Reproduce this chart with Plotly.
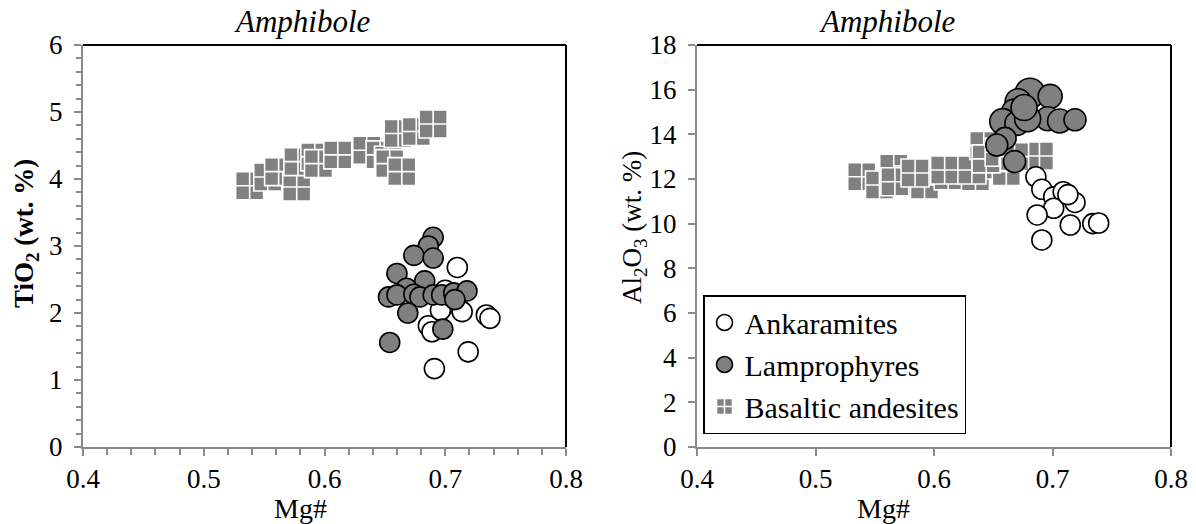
import plotly.graph_objects as go

# ---------------- data: left panel (TiO2 vs Mg#) ----------------
ank_mg_L = [0.710, 0.700, 0.698, 0.714, 0.734, 0.737, 0.686, 0.689, 0.719, 0.691, 0.696, 0.705]
ank_ti_L = [2.68, 2.34, 2.09, 2.02, 1.97, 1.92, 1.81, 1.72, 1.42, 1.17, 2.04, 2.25]

lam_mg_L = [0.690, 0.686, 0.674, 0.690, 0.660, 0.683, 0.668, 0.653, 0.660, 0.674, 0.679,
            0.690, 0.697, 0.707, 0.718, 0.708, 0.669, 0.698, 0.654]
lam_ti_L = [3.13, 3.00, 2.86, 2.82, 2.59, 2.48, 2.37, 2.24, 2.27, 2.28, 2.24,
            2.27, 2.27, 2.30, 2.33, 2.20, 2.00, 1.76, 1.56]

bas_mg_L = [0.538, 0.553, 0.562, 0.577, 0.578, 0.592, 0.595, 0.611, 0.635, 0.646, 0.653,
            0.654, 0.664, 0.661, 0.676, 0.690]
bas_ti_L = [3.90, 4.03, 4.11, 3.88, 4.26, 4.33, 4.23, 4.36, 4.43, 4.36, 4.28,
            4.23, 4.11, 4.68, 4.71, 4.82]

# ---------------- data: right panel (Al2O3 vs Mg#) ----------------
ank_mg_R = [0.686, 0.691, 0.701, 0.709, 0.701, 0.687, 0.691, 0.715, 0.719, 0.734, 0.739, 0.713]
ank_al_R = [12.10, 11.54, 11.20, 11.43, 10.69, 10.39, 9.27, 9.94, 10.95, 10.00, 10.03, 11.30]

lam_mg_R = [0.681, 0.671, 0.668, 0.658, 0.670, 0.660, 0.653, 0.668, 0.698, 0.696,
            0.706, 0.719, 0.679, 0.676]
lam_al_R = [15.84, 15.46, 15.00, 14.57, 14.49, 13.82, 13.52, 12.78, 15.70, 14.70,
            14.60, 14.65, 14.70, 15.20]
lam_sz_R = [30, 26, 26, 26, 24, 22, 22, 22, 24, 24, 24, 22, 26, 26]

bas_mg_R = [0.539, 0.554, 0.566, 0.578, 0.592, 0.612, 0.635, 0.644, 0.661, 0.689,
            0.567, 0.584, 0.609, 0.632, 0.642, 0.644, 0.655, 0.668]
bas_al_R = [12.10, 11.73, 12.48, 11.96, 11.73, 12.14, 12.10, 12.63, 12.33, 13.03,
            11.88, 12.27, 12.40, 12.40, 13.50, 12.90, 13.20, 13.00]

x_ticks = [0.4, 0.5, 0.6, 0.7, 0.8]
names = ["Ankaramites", "Lamprophyres", "Basaltic andesites"]

FONT = "Liberation Serif"
GREY = "#808080"
AXC = "#8a8a8a"

fig = go.Figure()

def sq(x, y, xa, ya, show):
    return go.Scatter(x=x, y=y, mode="markers", name=names[2], xaxis=xa, yaxis=ya,
                      showlegend=show, legendrank=3,
                      marker=dict(symbol="square-cross", size=28, color=GREY, opacity=1,
                                  line=dict(color="white", width=1.6)))

def circ(x, y, xa, ya, show, fill, name, rank, size):
    return go.Scatter(x=x, y=y, mode="markers", name=name, xaxis=xa, yaxis=ya,
                      showlegend=show, legendrank=rank,
                      marker=dict(symbol="circle", size=size, color=fill, opacity=1,
                                  line=dict(color="black", width=1.6)))

fig.add_trace(sq(bas_mg_L, bas_ti_L, "x", "y", False))
fig.add_trace(circ(ank_mg_L, ank_ti_L, "x", "y", False, "white", names[0], 1, 20))
fig.add_trace(circ(lam_mg_L, lam_ti_L, "x", "y", False, GREY, names[1], 2, 20))

fig.add_trace(sq(bas_mg_R, bas_al_R, "x2", "y2", True))
fig.add_trace(circ(ank_mg_R, ank_al_R, "x2", "y2", True, "white", names[0], 1, 20))
fig.add_trace(circ(lam_mg_R, lam_al_R, "x2", "y2", True, GREY, names[1], 2, lam_sz_R))

W, H = 1196, 524
def px(x):
    return x / W
def py(y):
    return (H - y) / H

common_x = dict(range=[0.4, 0.8], tickvals=x_ticks, ticktext=[str(v) for v in x_ticks],
                showline=True, linecolor=AXC, linewidth=2, ticks="outside", ticklen=7,
                tickcolor=AXC, tickwidth=2, showgrid=False, zeroline=False,
                tickfont=dict(family=FONT, size=27, color="black"),
                ticklabelstandoff=0, fixedrange=True, automargin=False)
common_y = dict(showline=True, linecolor=AXC, linewidth=2, ticks="outside", ticklen=7,
                tickcolor=AXC, tickwidth=2, showgrid=False, zeroline=False,
                tickfont=dict(family=FONT, size=27, color="black"),
                ticklabelstandoff=6, fixedrange=True, automargin=False)

ydom = [py(447), py(45)]
fig.update_layout(
    width=W, height=H,
    font=dict(family=FONT, size=25, color="black"),
    margin=dict(l=0, r=0, t=0, b=0, autoexpand=False),
    paper_bgcolor="white", plot_bgcolor="white",
    xaxis=dict(domain=[px(83), px(566)], anchor="y",
               minor=dict(dtick=0.02, ticks="outside", ticklen=6, tickcolor=AXC, tickwidth=2),
               **common_x),
    yaxis=dict(domain=ydom, anchor="x", range=[0, 6], dtick=1,
               minor=dict(dtick=0.2, ticks="outside", ticklen=5, tickcolor=AXC, tickwidth=2),
               **common_y),
    xaxis2=dict(domain=[px(697), px(1171)], anchor="y2", **common_x),
    yaxis2=dict(domain=ydom, anchor="x2", range=[0, 18], dtick=2, **common_y),
    showlegend=True,
    legend=dict(x=px(703), y=py(295), xanchor="left", yanchor="top",
                bgcolor="white", bordercolor="black", borderwidth=1.5,
                font=dict(family=FONT, size=30, color="black"),
                itemsizing="trace", traceorder="normal"),
)

for xr, yr in [("x domain", "y domain"), ("x2 domain", "y2 domain")]:
    fig.add_shape(type="line", xref=xr, yref=yr, x0=0, x1=1, y0=1, y1=1,
                  line=dict(color="black", width=2))
    fig.add_shape(type="line", xref=xr, yref=yr, x0=1, x1=1, y0=0, y1=1,
                  line=dict(color="black", width=2))

def note(text, x, y, size, angle=0):
    return dict(text=text, x=px(x), y=py(y), xref="paper", yref="paper",
                xanchor="center", yanchor="middle", showarrow=False, textangle=angle,
                font=dict(family=FONT, size=size, color="black"))

ann = []
for cx in (302, 888):
    ann.append(note("<i>Amphibole</i>", cx, 21, 31))
for cx in (300, 883):
    ann.append(note("Mg#", cx, 508, 28))
ann.append(note("<b>TiO<sub>2</sub> (wt. %)</b>", 26, 234, 27, -90))
ann.append(note("Al<sub>2</sub>O<sub>3</sub> (wt. %)", 634, 228, 27, -90))
fig.update_layout(annotations=ann)

fig.write_html("out.html")
